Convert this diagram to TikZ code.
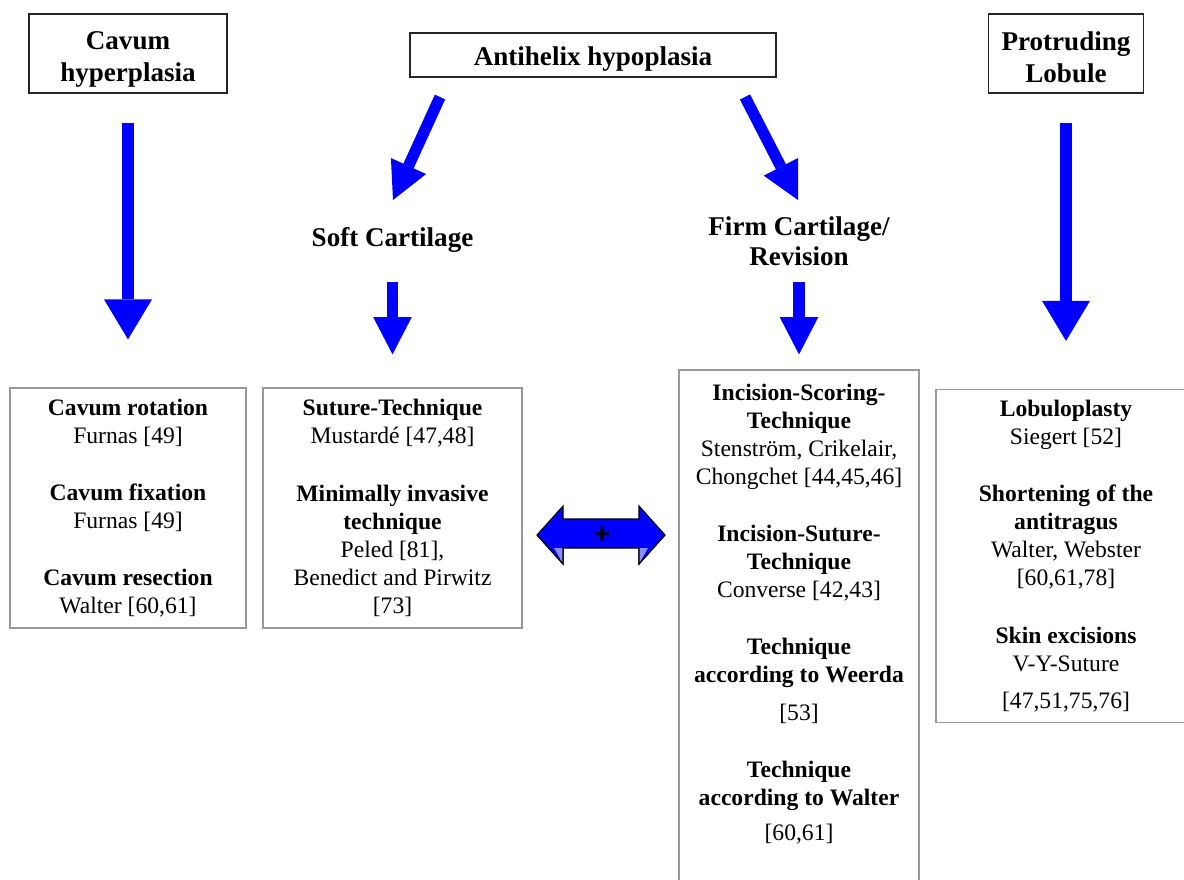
\documentclass[tikz,border=0pt]{standalone}
\usepackage{fontspec}
\setmainfont{Liberation Serif}
\newfontfamily\plusfont{Liberation Sans}
\usetikzlibrary{arrows.meta}
\newcommand\headfont{\fontsize{20.3}{24}\selectfont\bfseries}
\newcommand\techfont{\fontsize{17.7}{21}\selectfont}

\begin{document}
\begin{tikzpicture}[x=0.75pt, y=-0.75pt,
    titlebox/.style={draw=black!85, line width=0.8pt, align=center, font=\headfont, inner sep=0pt},
    label/.style={align=center, font=\headfont, inner sep=0pt},
    techbox/.style={draw=black!40, line width=0.9pt, align=center, font=\techfont, inner sep=0pt},
    bigarrow/.style={draw=blue, line width=9.5pt, -{Triangle[width=36pt,length=30pt,line width=0pt]}},
    smallarrow/.style={draw=blue, line width=8.5pt, -{Triangle[width=29pt,length=28pt,line width=0pt]}}]
    \useasboundingbox (0,0) rectangle (1184,879);

    \node[titlebox, minimum width=148.5pt, minimum height=59.25pt] (cav) at (128,53.5) {\rule{0pt}{22pt}Cavum\\hyperplasia};
    \node[titlebox, minimum width=274.5pt, minimum height=33pt] (anti) at (593,55) {\rule{0pt}{20pt}Antihelix hypoplasia};
    \node[titlebox, minimum width=116.25pt, minimum height=59.25pt] (prot) at (1066,53.5) {\rule{0pt}{19pt}Protruding\\Lobule};

    \node[label] (soft) at (392.5,240) {Soft Cartilage};
    \node[label, font=\fontsize{20.3}{22.5}\selectfont\bfseries] (firm) at (799,241) {Firm Cartilage/\\Revision};

    \node[techbox, minimum width=177pt, minimum height=180pt] (box1) at (128,508)
      {\textbf{Cavum rotation}\\Furnas [49]\\[22pt]\textbf{Cavum fixation}\\Furnas [49]\\[22pt]\textbf{Cavum resection}\\Walter [60,61]};
    \node[techbox, minimum width=194.25pt, minimum height=180pt] (box2) at (392.5,508)
      {\textbf{Suture-Technique}\\Mustardé [47,48]\\[22pt]\textbf{Minimally invasive}\\\textbf{technique}\\Peled [81],\\Benedict and Pirwitz\\{}[73]};
    \node[techbox, minimum width=180pt, minimum height=384pt] (box3) at (799,626)
      {\textbf{Incision-Scoring-}\\\textbf{Technique}\\Stenström, Crikelair,\\Chongchet [44,45,46]\\[22pt]\textbf{Incision-Suture-}\\\textbf{Technique}\\Converse [42,43]\\[22pt]\textbf{Technique}\\\textbf{according to Weerda}\\[7pt][53]\\[22pt]\textbf{Technique}\\\textbf{according to Walter}\\[5pt][60,61]\\\rule{0pt}{1pt}};
    \node[techbox, minimum width=195pt, minimum height=249.75pt] (box4) at (1066,556)
      {\textbf{Lobuloplasty}\\Siegert [52]\\[22pt]\textbf{Shortening of the}\\\textbf{antitragus}\\Walter, Webster\\{}[60,61,78]\\[22pt]\textbf{Skin excisions}\\V-Y-Suture\\[7pt][47,51,75,76]};

    \coordinate (d1s) at (440,97);
    \coordinate (d1e) at (393,200);
    \coordinate (d2s) at (745,97);
    \coordinate (d2e) at (798,200);

    \draw[bigarrow, shorten <=21.75pt, shorten >=36pt] (cav.south) -- (box1.north);
    \draw[bigarrow, shorten <=21.75pt, shorten >=36pt] (prot.south) -- (prot.south |- box4.north);
    \draw[smallarrow] (d1s) -- (d1e);
    \draw[smallarrow] (d2s) -- (d2e);
    \draw[smallarrow, shorten <=31.5pt, shorten >=24.75pt] (soft.center) -- (box2.north);
    \draw[smallarrow, shorten <=30.75pt, shorten >=11.25pt] (firm.center) -- (box3.north);

    \draw[fill=blue, line width=0.8pt] (537,535) -- (563,506) -- (563,519) -- (639,519) -- (639,506) -- (665,535)
      -- (639,564) -- (639,548) -- (563,548) -- (563,564) -- cycle;
    \fill[blue!45] (554,548) -- (563,548) -- (563,564) -- cycle;
    \fill[blue!45] (639,548) -- (648,548) -- (639,564) -- cycle;
    \draw[line width=0.8pt] (537,535) -- (563,564) -- (563,548);
    \draw[line width=0.8pt] (665,535) -- (639,564) -- (639,548);
    \node[font=\plusfont\fontsize{21}{21}\selectfont\bfseries, inner sep=0pt] (plus) at (602,535) {+};
  \end{tikzpicture}
\end{document}
